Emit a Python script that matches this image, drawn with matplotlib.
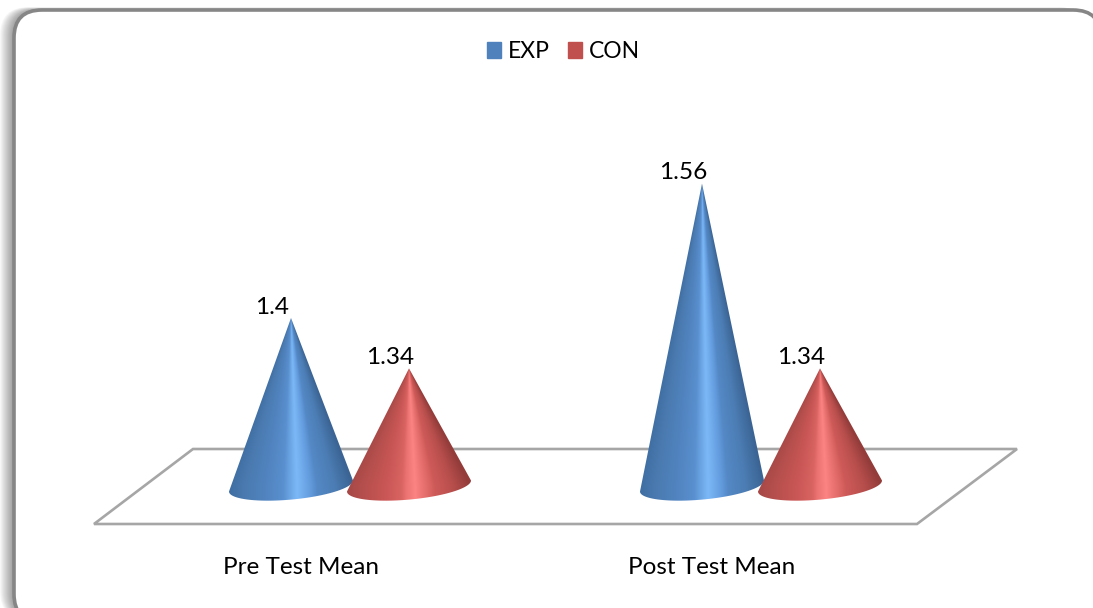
import numpy as np
import matplotlib
matplotlib.use("Agg")
import matplotlib.pyplot as plt
from matplotlib.colors import to_rgb
from matplotlib.patches import FancyBboxPatch, Patch, Polygon

plt.rcParams['font.family'] = ['Lato', 'DejaVu Sans']

categories = ["Pre Test Mean", "Post Test Mean"]
series_names = ["EXP", "CON"]
exp_values = [1.4, 1.56]
con_values = [1.34, 1.34]
value_labels = [["1.4", "1.56"], ["1.34", "1.34"]]

W, H = 1093, 608
PX_X = 411.0   # pixels per category
PX_Y = 840.0   # pixels per value unit
AXIS_MIN = 1.2

# shading across a cone, left edge to right edge
shade_pos = [-1.0, -0.75, -0.4, -0.12, -0.05, 0.1, 0.3, 0.42, 0.7, 1.0]
blue_stops = ["#3f6ea3", "#4a7aaf", "#5184c0", "#5a90cf", "#669fdd", "#7cb8f8",
              "#659ee0", "#5489c6", "#4c7db4", "#3b6494"]
red_stops = ["#a64846", "#b44f4d", "#c85654", "#d96462", "#ea7270", "#fc8482",
             "#e06a68", "#ce5a58", "#b84f4d", "#933c3a"]


def draw_cone(ax, xc, value, stops):
    half_w = 62.0 / PX_X
    minor = 13.6 / PX_Y
    tilt = 5.5 / PX_Y
    t = np.linspace(0, -np.pi, 80)
    ex = xc + half_w * np.cos(t)
    ey = AXIS_MIN + tilt * np.cos(t) + minor * np.sin(t)
    outline = np.column_stack([np.r_[xc, ex], np.r_[value, ey]])

    xs = np.linspace(xc - half_w, xc + half_w, 400)
    ys = np.linspace(AXIS_MIN - 2 * minor, value, 400)
    gx, gy = np.meshgrid(xs, ys)
    frac = np.clip((value - gy) / (value - AXIS_MIN), 0.004, 1)
    u = np.clip((gx - xc) / (half_w * frac), -1, 1)
    rgb = np.array([to_rgb(c) for c in stops])
    img = np.dstack([np.interp(u, shade_pos, rgb[:, i]) for i in range(3)])
    im = ax.imshow(img, origin="lower", aspect="auto", zorder=3, interpolation="bilinear",
                   extent=(xs[0], xs[-1], ys[0], ys[-1]))
    poly = Polygon(outline, closed=True, transform=ax.transData, fc="none", ec="none")
    ax.add_patch(poly)
    im.set_clip_path(poly)


fig = plt.figure(figsize=(W / 100, H / 100), dpi=100, facecolor="white")

# frame and floor, in pixels
bg = fig.add_axes([0, 0, 1, 1])
bg.set_xlim(0, W)
bg.set_ylim(H, 0)
bg.axis("off")
for i in range(14, 0, -1):
    bg.add_patch(FancyBboxPatch((14 - i, 10 - i * 0.2), 1087, 612, boxstyle="round,pad=0,rounding_size=28",
                                fc="black", ec="none", alpha=0.033))
bg.add_patch(FancyBboxPatch((14, 10), 1087, 612, boxstyle="round,pad=0,rounding_size=28",
                            fc="white", ec="#868686", lw=2.6))
bg.add_patch(Polygon([(193, 449), (1017, 449), (917, 524), (94, 524)], closed=True,
                     fc="none", ec="#a6a6a6", lw=1.9))

# chart, in category and value units
ax = fig.add_axes([0, 0, 1, 1])
ax.patch.set_alpha(0)
ax.axis("off")
xlim = (-350 / PX_X, (W - 350) / PX_X)
ylim = (AXIS_MIN - (H - 486) / PX_Y, AXIS_MIN + 486 / PX_Y)

offset = 59.0 / PX_X
for i, cat in enumerate(categories):
    draw_cone(ax, i - offset, exp_values[i], blue_stops)
    draw_cone(ax, i + offset, con_values[i], red_stops)
    for xc, val, lab in [(i - offset, exp_values[i], value_labels[0][i]),
                         (i + offset, con_values[i], value_labels[1][i])]:
        ax.annotate(lab, xy=(xc, val), xytext=(-19 * 0.72, 11 * 0.72), textcoords="offset points",
                    ha="center", va="center", fontsize=17.6, color="black", zorder=5)
    ax.annotate(cat, xy=(i, AXIS_MIN), xytext=(-49 * 0.72, -81.5 * 0.72), textcoords="offset points",
                ha="center", va="center", fontsize=17.5, color="black", zorder=5)
ax.set_xlim(*xlim)
ax.set_ylim(*ylim)

handles = [Patch(color="#4f81bd", label=series_names[0]), Patch(color="#c0504d", label=series_names[1])]
ax.legend(handles=handles, ncol=2, frameon=False, loc="center", bbox_to_anchor=(563.5 / W, 1 - 51.5 / H),
          fontsize=16.5, handlelength=0.65, handleheight=0.65, handletextpad=0.3, columnspacing=0.75)

fig.savefig("out.png", dpi=100)
